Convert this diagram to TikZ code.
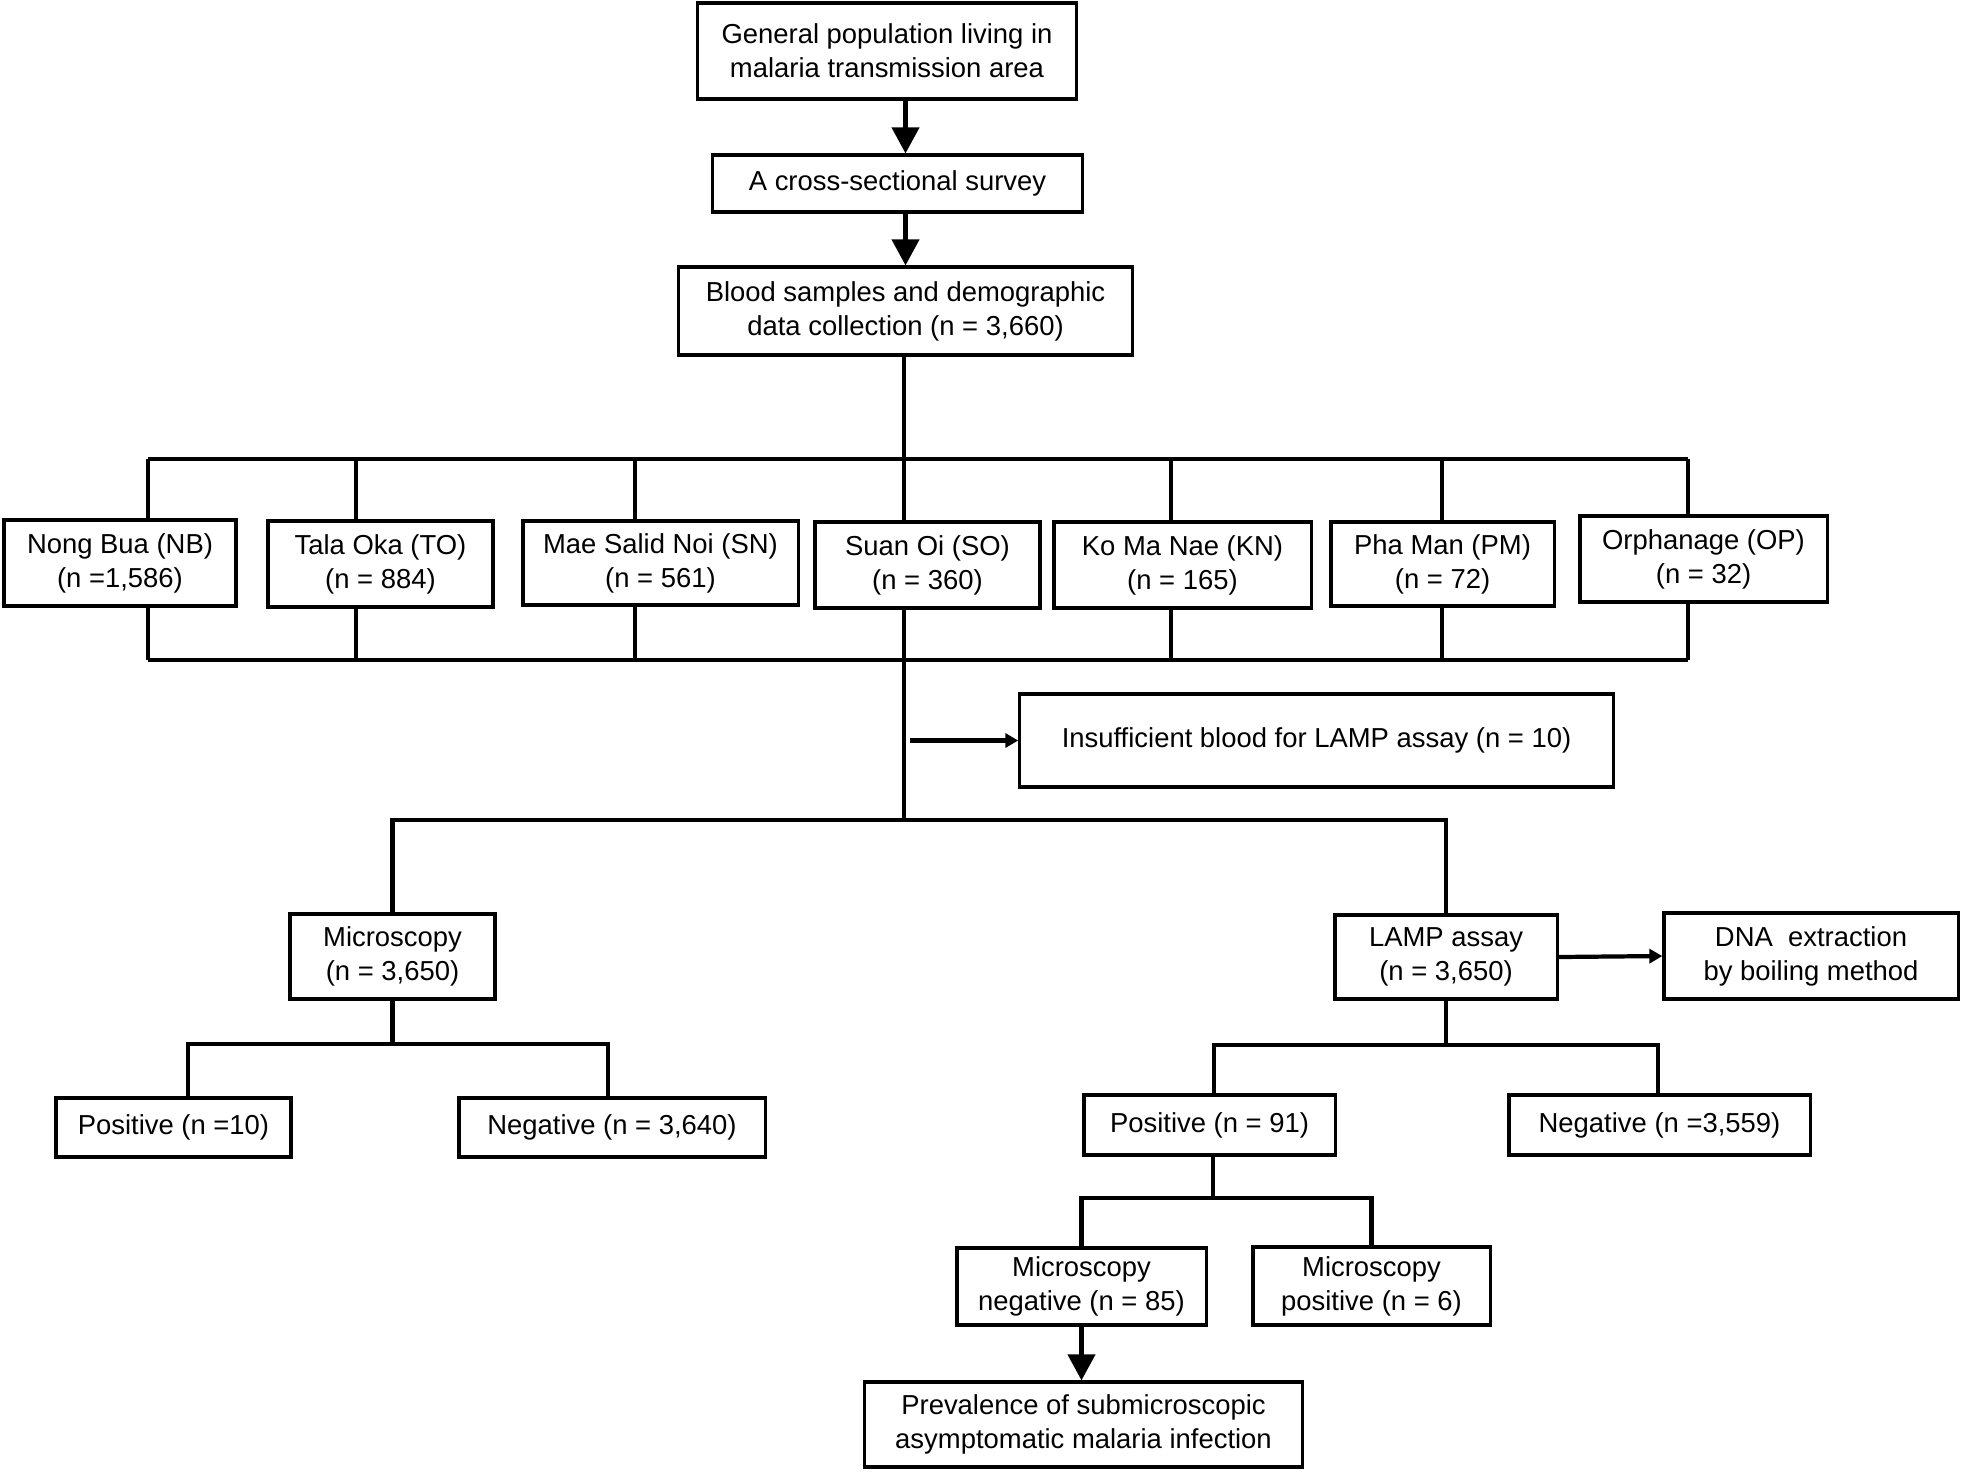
\documentclass[tikz,border=0pt]{standalone}
\usepackage{fontspec}
\setmainfont{Liberation Sans}
\usetikzlibrary{arrows.meta}
\tikzset{
  box/.style={draw, line width=0.9pt, align=center, inner sep=0pt, font=\fontsize{7.8}{9.7}\selectfont},
  conn/.style={line width=1.2pt},
  bigarr/.style={line width=1.2pt, -{Triangle[length=0.26cm, width=0.27cm]}},
  smallarr/.style={line width=1.2pt, -{Triangle[length=0.13cm, width=0.14cm]}}
}
\begin{document}
\begin{tikzpicture}[x=0.01cm, y=-0.01cm]
\useasboundingbox (0,0) rectangle (1961,1472);

\node[box, minimum width=3.78cm, minimum height=0.96cm] (gen) at (887,51) {General population living in\\malaria transmission area};
\node[box, minimum width=3.69cm, minimum height=0.57cm] (cross) at (897.5,183.5) {A cross-sectional survey};
\node[box, minimum width=4.53cm, minimum height=0.88cm] (blood) at (905.5,311) {Blood samples and demographic\\data collection (n = 3,660)};

\node[box, minimum width=2.32cm, minimum height=0.86cm] (NB) at (120,563) {Nong Bua (NB)\\(n =1,586)};
\node[box, minimum width=2.25cm, minimum height=0.86cm] (TO) at (380.5,564) {Tala Oka (TO)\\(n = 884)};
\node[box, minimum width=2.75cm, minimum height=0.84cm] (SN) at (660.5,563) {Mae Salid Noi (SN)\\(n = 561)};
\node[box, minimum width=2.25cm, minimum height=0.86cm] (SO) at (927.5,565) {Suan Oi (SO)\\(n = 360)};
\node[box, minimum width=2.57cm, minimum height=0.86cm] (KN) at (1182.5,565) {Ko Ma Nae (KN)\\(n = 165)};
\node[box, minimum width=2.23cm, minimum height=0.84cm] (PM) at (1442.5,564) {Pha Man (PM)\\(n = 72)};
\node[box, minimum width=2.47cm, minimum height=0.86cm] (OP) at (1703.5,559) {Orphanage (OP)\\(n = 32)};

\node[box, minimum width=5.93cm, minimum height=0.93cm] (insuf) at (1316.5,740.5) {Insufficient blood for LAMP assay (n = 10)};

\node[box, minimum width=2.05cm, minimum height=0.85cm] (micro) at (392.5,956.5) {Microscopy\\(n = 3,650)};
\node[box, minimum width=2.22cm, minimum height=0.84cm] (lamp) at (1446,957) {LAMP assay\\(n = 3,650)};
\node[box, minimum width=2.94cm, minimum height=0.86cm] (dna) at (1811,956) {DNA\ \ extraction\\by boiling method};

\node[box, minimum width=2.35cm, minimum height=0.59cm] (pos10) at (173.5,1127.5) {Positive (n =10)};
\node[box, minimum width=3.06cm, minimum height=0.59cm] (neg3640) at (612,1127.5) {Negative (n = 3,640)};
\node[box, minimum width=2.51cm, minimum height=0.60cm] (pos91) at (1209.5,1125) {Positive (n = 91)};
\node[box, minimum width=3.01cm, minimum height=0.60cm] (neg3559) at (1659.5,1125) {Negative (n =3,559)};

\node[box, minimum width=2.49cm, minimum height=0.77cm] (mneg) at (1081.5,1286.5) {Microscopy\\negative (n = 85)};
\node[box, minimum width=2.37cm, minimum height=0.78cm] (mpos) at (1371.5,1286) {Microscopy\\positive (n = 6)};
\node[box, minimum width=4.37cm, minimum height=0.85cm] (prev) at (1083.5,1424.5) {Prevalence of submicroscopic\\asymptomatic malaria infection};

% top arrows
\draw[bigarr] (gen.south -| blood.north) -- (cross.north -| blood.north);
\draw[bigarr] (cross.south -| blood.north) -- (blood.north);

% bus coordinates
\coordinate (t1) at (148,459); \coordinate (t2) at (356,459); \coordinate (t3) at (635,459);
\coordinate (t4) at (904,459); \coordinate (t5) at (1171,459); \coordinate (t6) at (1442,459);
\coordinate (t7) at (1688,459);
\coordinate (b1) at (148,660); \coordinate (b2) at (356,660); \coordinate (b3) at (635,660);
\coordinate (b4) at (904,660); \coordinate (b5) at (1171,660); \coordinate (b6) at (1442,660);
\coordinate (b7) at (1688,660);
\coordinate (lb) at (904,820);
\coordinate (ia) at (910,740.5);

\draw[conn] (blood.south -| t4) -- (t4);
\draw[conn] (t1) -- (t7);
\draw[conn] (b1) -- (b7);
\foreach \i/\n in {1/NB,2/TO,3/SN,4/SO,5/KN,6/PM,7/OP}{
  \draw[conn] (t\i) -- (t\i |- \n.north);
  \draw[conn] (\n.south -| b\i) -- (b\i);
}
\draw[conn] (b4) -- (lb);
\draw[smallarr] (ia) -- (insuf.west);
\draw[conn] (micro.north) -- (micro.north |- lb) -- (lamp.north |- lb) -- (lamp.north);
\draw[smallarr] (lamp.east) -- (dna.west);

% microscopy branch
\coordinate (mL) at (188,1044); \coordinate (mR) at (608,1044);
\draw[conn] (micro.south) -- (micro.south |- mL);
\draw[conn] (pos10.north -| mL) -- (mL) -- (mR) -- (neg3640.north -| mR);

% LAMP branch
\coordinate (lL) at (1214,1045); \coordinate (lR) at (1658,1045);
\draw[conn] (lamp.south) -- (lamp.south |- lL);
\draw[conn] (pos91.north -| lL) -- (lL) -- (lR) -- (neg3559.north -| lR);

% positive branch
\coordinate (pT) at (1213,1198);
\coordinate (pL) at (1081.5,1198); \coordinate (pR) at (1371.5,1198);
\draw[conn] (pos91.south -| pT) -- (pT);
\draw[conn] (mneg.north) -- (pL) -- (pR) -- (mpos.north);
\draw[bigarr] (mneg.south) -- (prev.north -| mneg.south);
\end{tikzpicture}
\end{document}
